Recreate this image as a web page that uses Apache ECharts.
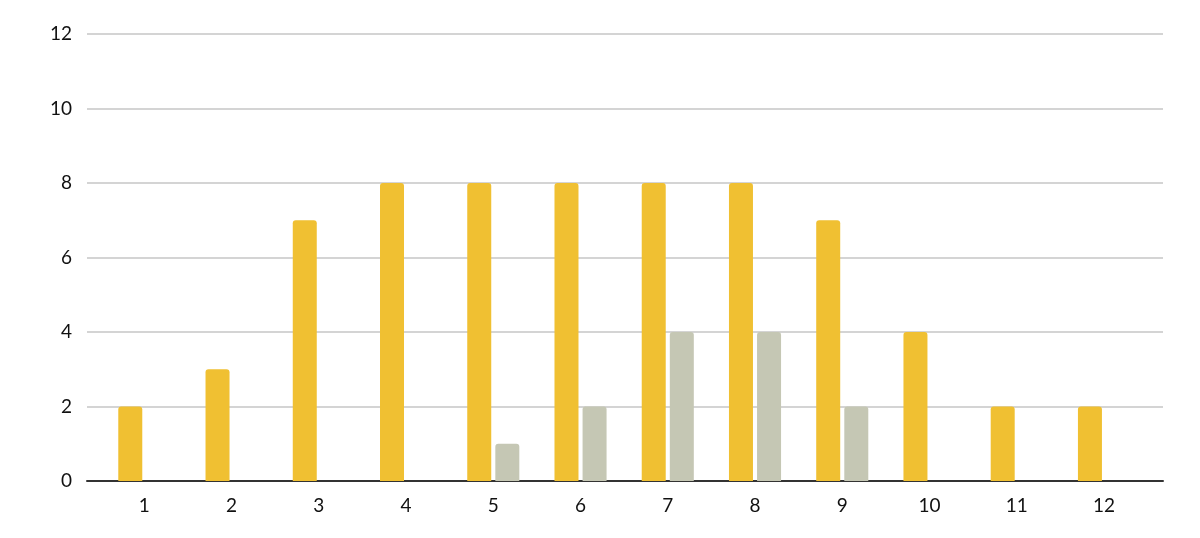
<!DOCTYPE html>
<html>
<head>
<meta charset="utf-8">
<script src="https://cdn.jsdelivr.net/npm/echarts@6/dist/echarts.min.js"></script>
<style>html,body{margin:0;padding:0;background:#fff;}#c{width:1200px;height:538px;}</style>
</head>
<body>
<div id="c"></div>
<script>
const categories = ['1','2','3','4','5','6','7','8','9','10','11','12'];
const seriesA = [2,3,7,8,8,8,8,8,7,4,2,2];
const seriesB = [0,0,0,0,1,2,4,4,2,0,0,0];
const yTicks = {min:0, max:12, interval:2};

const font = 'Lato, "Open Sans", sans-serif';
const chart = echarts.init(document.getElementById('c'));
chart.setOption({
  animation:false,
  backgroundColor:'#fff',
  grid:[
    {left:87, right:37, top:34, bottom:57},
    {left:100.7, right:52.4, top:34, bottom:57}
  ],
  xAxis:[
    {type:'category', gridIndex:0, data:[''], axisLine:{lineStyle:{color:'#333',width:2}}, axisTick:{show:false}, axisLabel:{show:false}},
    {type:'category', gridIndex:1, data:categories, axisLine:{show:false}, axisTick:{show:false},
     axisLabel:{color:'#111', fontSize:19, fontFamily:font, margin:15}}
  ],
  yAxis:[
    {type:'value', gridIndex:0, min:yTicks.min, max:yTicks.max, interval:yTicks.interval,
     axisLine:{show:false}, axisTick:{show:false},
     axisLabel:{color:'#111', fontSize:19, fontFamily:font, margin:15},
     splitLine:{lineStyle:{color:'#c6c6c6', width:1.5}}},
    {type:'value', gridIndex:1, min:yTicks.min, max:yTicks.max, interval:yTicks.interval, show:false, splitLine:{show:false}}
  ],
  series:[
    {type:'bar', xAxisIndex:1, yAxisIndex:1, data:seriesA, barWidth:24, barGap:'17%',
     itemStyle:{color:'#F0C032', borderRadius:[3,3,0,0]}},
    {type:'bar', xAxisIndex:1, yAxisIndex:1, data:seriesB, barWidth:24, barGap:'17%',
     itemStyle:{color:'#C5C7B4', borderRadius:[3,3,0,0]}}
  ]
});
</script>
</body>
</html>
